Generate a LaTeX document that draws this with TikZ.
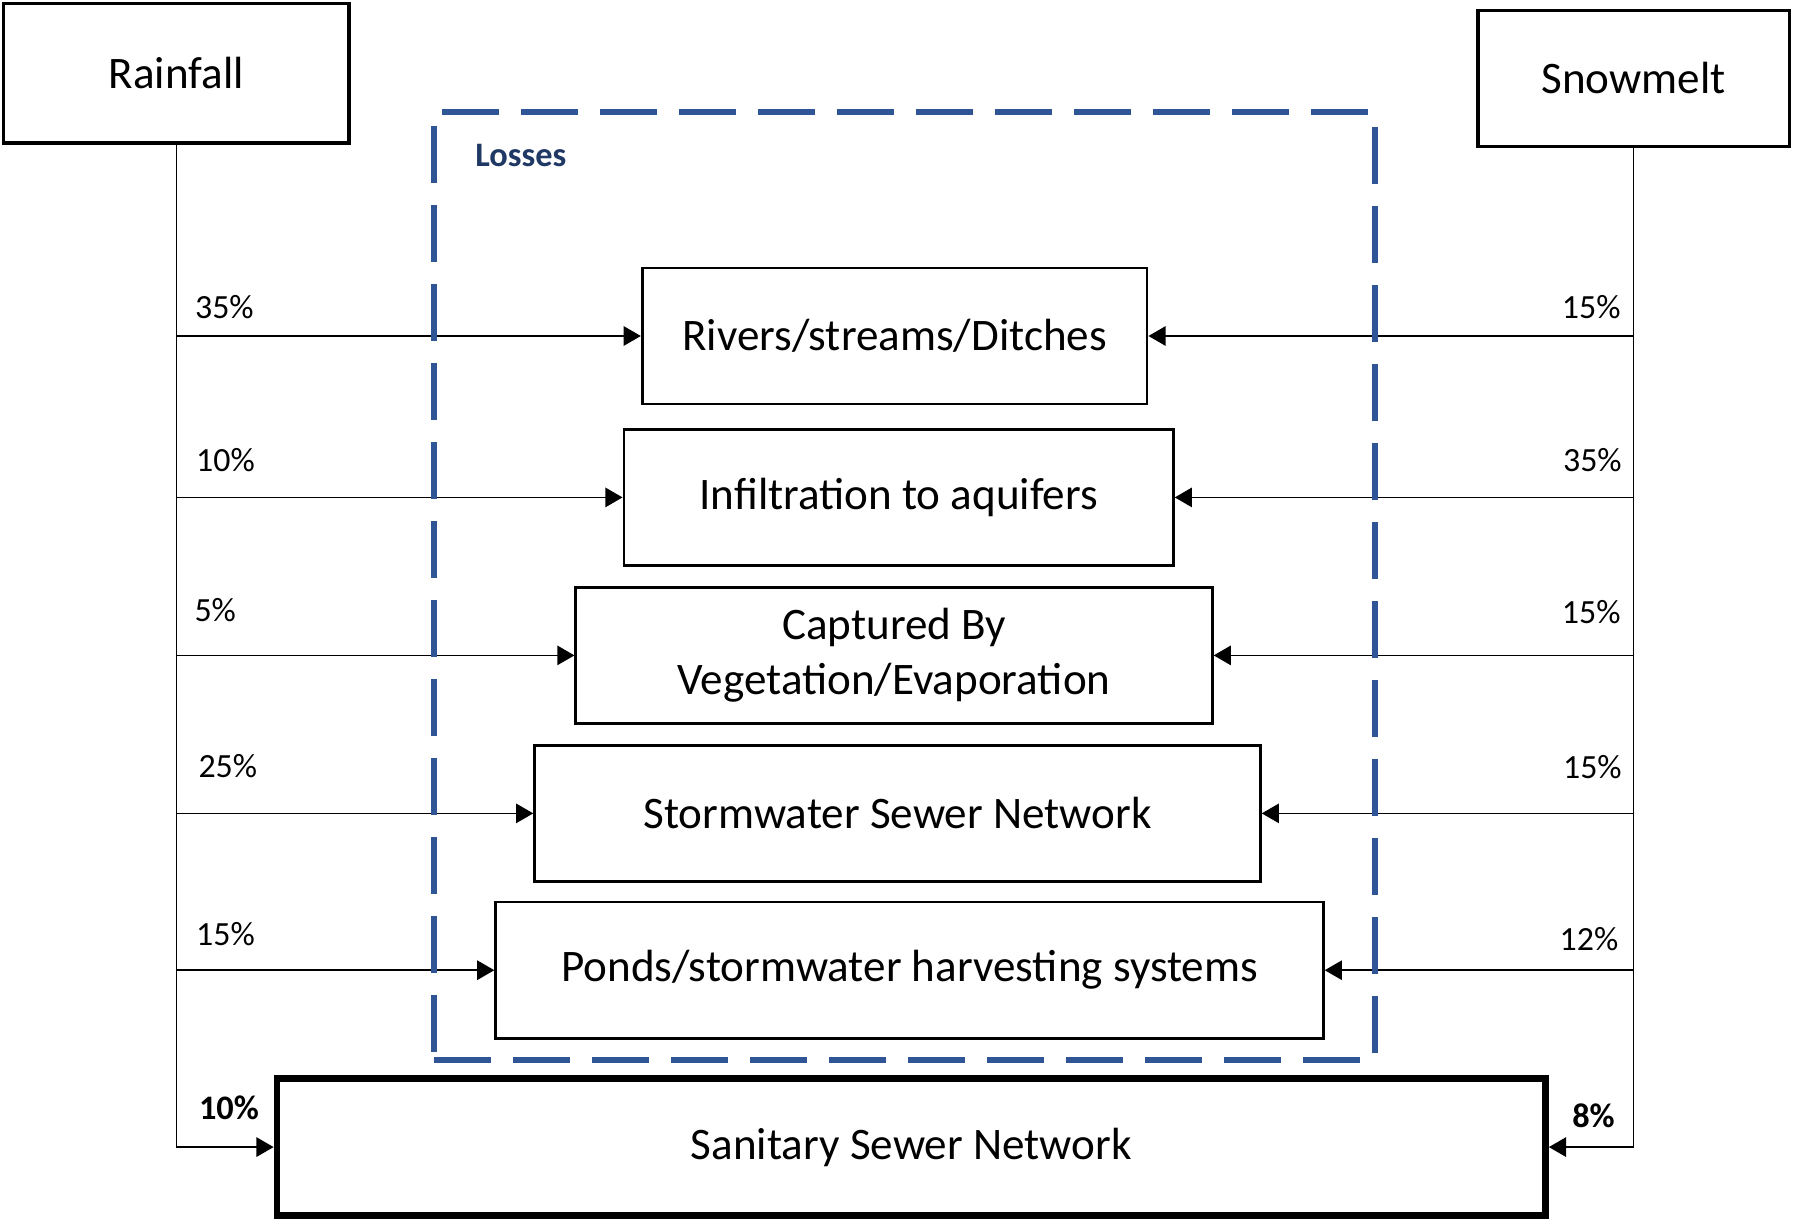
\documentclass[tikz,border=0pt]{standalone}
\usepackage{fontspec}
\setmainfont{Carlito}
\usetikzlibrary{arrows.meta}
\definecolor{dashblue}{HTML}{2F5597}
\definecolor{lossblue}{HTML}{1F3864}
\begin{document}
\begin{tikzpicture}[x=0.5pt,y=-0.5pt,
  sz/.style 2 args={minimum width=#1*0.5pt, minimum height=#2*0.5pt},
  box/.style={draw, line width=1.2pt, inner sep=0pt, align=center, font=\fontsize{19.7}{23.8}\selectfont},
  srcbox/.style={box, line width=1.5pt},
  sanbox/.style={box, line width=3pt},
  pct/.style={inner sep=0pt, font=\fontsize{14.8}{18}\selectfont},
  bpct/.style={inner sep=0pt, font=\fontsize{15}{18}\selectfont\bfseries},
  flow/.style={line width=0.65pt, -{Triangle[length=7.5pt,width=8.5pt]}},
  lossbox/.style={draw=dashblue, line width=2.6pt, dash pattern=on 25pt off 9.5pt, inner sep=0pt}
]
\useasboundingbox (0,0) rectangle (1568,1072);

% sources
\node[srcbox, sz={302}{122}] (rain) at (154,64) {Rainfall};
\node[srcbox, sz={272}{119}] (snow) at (1427,68.5) {Snowmelt};

% loss boxes
\node[box, sz={441}{119}] (b1) at (781.5,293.5) {Rivers/streams/Ditches};
\node[box, sz={480}{119}] (b2) at (785,434.5) {Infiltration to aquifers};
\node[box, sz={556}{119}] (b3) at (781,572.5) {Captured By\\Vegetation/Evaporation};
\node[box, sz={634}{119}] (b4) at (784,710.5) {Stormwater Sewer Network};
\node[box, sz={723}{119}] (b5) at (794.5,847.5) {Ponds/stormwater harvesting systems};

% sanitary
\node[sanbox, sz={1108}{120}] (san) at (796,1002) {Sanitary Sewer Network};

% connectors
\draw[flow] (rain.south) |- (san.west);
\foreach \b in {b1,b2,b3,b4,b5}{
  \draw[flow] (rain.south |- \b.west) -- (\b.west);
  \draw[flow] (snow.south |- \b.east) -- (\b.east);
}
\draw[flow] (snow.south) |- (san.east);

% dashed losses box
\node[lossbox, sz={822}{828}] (loss) at (790,512) {};
\node[inner sep=0pt, text=lossblue, font=\fontsize{15}{18}\selectfont\bfseries] (losslbl) at (455,136) {Losses};

% percentages left
\node[pct] (l1) at (196,268) {35\%};
\node[pct] (l2) at (197,402) {10\%};
\node[pct] (l3) at (188,533) {5\%};
\node[pct] (l4) at (199,669) {25\%};
\node[pct] (l5) at (197,816) {15\%};
\node[bpct] (l6) at (200,968) {10\%};

% percentages right
\node[pct] (r1) at (1390,268) {15\%};
\node[pct] (r2) at (1391,402) {35\%};
\node[pct] (r3) at (1390,535) {15\%};
\node[pct] (r4) at (1391,670) {15\%};
\node[pct] (r5) at (1388,820) {12\%};
\node[bpct] (r6) at (1392,975) {8\%};
\end{tikzpicture}
\end{document}
